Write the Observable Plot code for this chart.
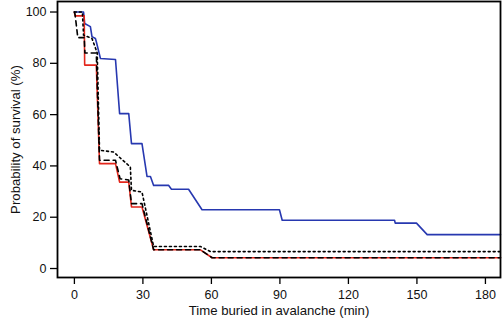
<!DOCTYPE html>
<html>
<head>
<meta charset="utf-8">
<script src="https://cdn.jsdelivr.net/npm/d3@7"></script>
<script src="https://cdn.jsdelivr.net/npm/@observablehq/plot@0.6"></script>
<style>
  html, body { margin: 0; padding: 0; background: #fff; }
  svg { display: block; }
  svg [aria-label="x-axis label"] text, svg [aria-label="y-axis label"] text { font-size: 13.2px; }
</style>
</head>
<body>
<div id="chart"></div>
<script>
// Time buried (min) and survival probability (%) for each curve
const blueT = [0, 4, 4.5, 7, 7.7, 9.2, 9.6, 11.4, 18, 19.8, 23.8, 25, 29.6, 31.8, 33.3, 34.7, 41.3, 42.5, 50, 55.9, 89.8, 91, 140.2, 140.5, 149.8, 154.5, 186.6];
const blueV = [100, 100, 95.5, 94.3, 90.4, 89.7, 88.4, 81.9, 81.5, 60.4, 60.4, 48.7, 48.7, 35.9, 35.9, 32.4, 32.4, 30.9, 30.9, 22.9, 22.9, 18.8, 18.8, 17.7, 17.7, 13.2, 13.2];

const redT = [0, 0.3, 4.3, 4.5, 9.6, 11, 18, 19.8, 23.8, 25, 29.6, 34.7, 55.2, 60.3, 186.6];
const redV = [100, 98.5, 98.5, 79.3, 79.3, 40.9, 40.9, 33.7, 33.7, 24, 24, 7.3, 7.3, 4.2, 4.2];

const dashT = [0, 0.3, 1.5, 4.3, 4.6, 9.6, 11, 18, 20, 23.8, 25, 29.6, 34.7, 55.2, 60.3, 186.6];
const dashV = [100, 99, 90, 90, 84, 84, 42.2, 42.2, 35, 34.5, 25.3, 25.3, 7.3, 7.3, 4.2, 4.2];

const dotT = [0, 3.5, 4, 7.7, 10, 11, 17.2, 24.5, 25, 29.6, 34.7, 55.2, 59.6, 186.6];
const dotV = [100, 100, 91, 89.7, 84, 46.1, 45.4, 39.6, 30.5, 29.8, 8.6, 8.6, 6.6, 6.6];

const xTicks = [0, 30, 60, 90, 120, 150, 180];
const yTicks = [0, 20, 40, 60, 80, 100];

const toRows = (T, V) => T.map((t, i) => ({t, v: V[i]}));
const blue = toRows(blueT, blueV);
const red = toRows(redT, redV);
const dashed = toRows(dashT, dashV);
const dotted = toRows(dotT, dotV);

const chart = Plot.plot({
  width: 502,
  height: 323,
  marginLeft: 57,
  marginRight: 2,
  marginTop: 1,
  marginBottom: 46,
  style: {fontFamily: "'Liberation Sans', Arial, Helvetica, sans-serif", fontSize: "12.5px", color: "#111", background: "#fff"},
  x: {domain: [-7.4, 186.6]},
  y: {domain: [-3.5, 104.1]},
  marks: [
    Plot.line(blue, {x: "t", y: "v", stroke: "#2738b0", strokeWidth: 1.6}),
    Plot.line(red, {x: "t", y: "v", stroke: "#e3261b", strokeWidth: 1.6}),
    Plot.line(dashed, {x: "t", y: "v", stroke: "#000", strokeWidth: 1.6, strokeDasharray: "5,4"}),
    Plot.line(dotted, {x: "t", y: "v", stroke: "#000", strokeWidth: 1.6, strokeDasharray: "2,3"}),
    Plot.frame({stroke: "#000", strokeWidth: 1.8}),
    Plot.axisX({ticks: xTicks, tickSize: 7, tickPadding: 6, stroke: "#000", strokeWidth: 1.3,
      label: "Time buried in avalanche (min)", labelAnchor: "center", labelOffset: 37, labelArrow: "none"}),
    Plot.axisY({ticks: yTicks, tickSize: 7, tickPadding: 4, stroke: "#000", strokeWidth: 1.3,
      label: "Probability of survival (%)", labelAnchor: "center", labelOffset: 47, labelArrow: "none"})
  ]
});
document.getElementById("chart").appendChild(chart);
</script>
</body>
</html>
